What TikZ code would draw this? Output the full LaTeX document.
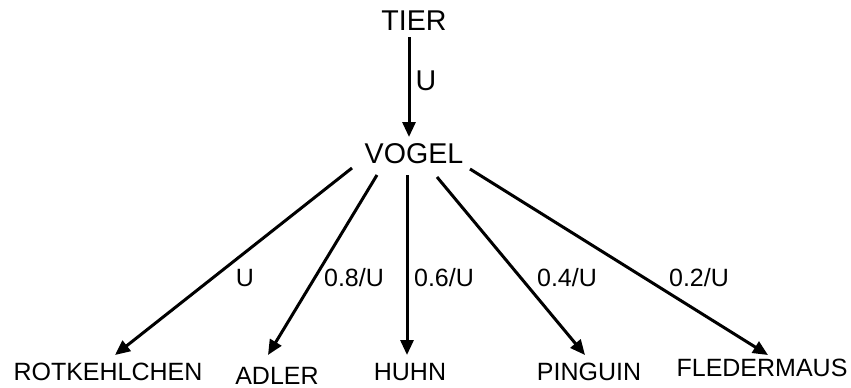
\documentclass[tikz,border=0pt]{standalone}
\usepackage{fontspec}
\setmainfont{Liberation Sans}
\usetikzlibrary{arrows.meta}
\begin{document}
\begin{tikzpicture}[x=0.5pt,y=-0.5pt,
  lbl/.style={inner sep=0pt,font=\fontsize{12.5}{15}\selectfont},
  big/.style={inner sep=0pt,font=\fontsize{14.3}{17}\selectfont},
  arr/.style={line width=1.5pt,-{Triangle[length=7.5pt,width=6.5pt]}}]
\useasboundingbox (0,0) rectangle (851,387);
\node[big] (tier) at (414,21) {TIER};
\node[big] (vogel) at (414,154) {VOGEL};
\node[lbl] (rot) at (108,372) {ROTKEHLCHEN};
\node[lbl] (adler) at (277,375.5) {ADLER};
\node[lbl] (huhn) at (410,372) {HUHN};
\node[lbl] (ping) at (589,372) {PINGUIN};
\node[lbl] (fled) at (762,368) {FLEDERMAUS};
\draw[arr] ([shift={(-5,16)}]tier.center) -- ([shift={(-5,-17)}]vogel.center);
\draw[arr] ([shift={(-62,14)}]vogel.center) -- ([shift={(7,-17)}]rot.center);
\draw[arr] ([shift={(-37,21)}]vogel.center) -- ([shift={(-9,-20.5)}]adler.center);
\draw[arr] ([shift={(-7,21)}]vogel.center) -- ([shift={(-3,-17)}]huhn.center);
\draw[arr] ([shift={(23,23)}]vogel.center) -- ([shift={(-4,-17)}]ping.center);
\draw[arr] ([shift={(56,15)}]vogel.center) -- ([shift={(6,-13)}]fled.center);
\node[big] (l0) at (426,81) {U};
\node[lbl] (l1) at (245,278) {U};
\node[lbl] (l2) at (354,278) {0.8/U};
\node[lbl] (l3) at (444,278) {0.6/U};
\node[lbl] (l4) at (567,278) {0.4/U};
\node[lbl] (l5) at (699,278) {0.2/U};
\end{tikzpicture}
\end{document}
